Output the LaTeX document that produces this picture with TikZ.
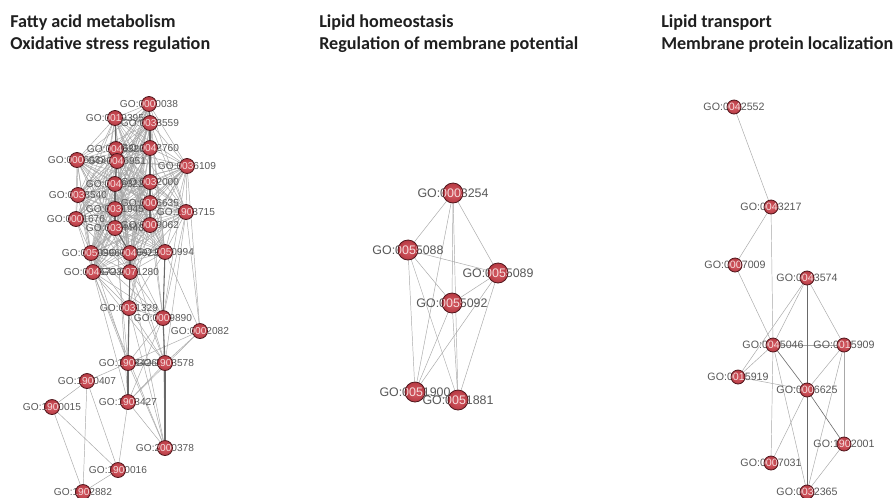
\documentclass[tikz,border=0pt]{standalone}
\usepackage{fontspec}
\setmainfont{Liberation Sans}
\newfontfamily\titlefont{Carlito}
\pgfdeclarelayer{bg}
\pgfsetlayers{bg,main}
\definecolor{nodered}{RGB}{208,66,76}
\definecolor{noderim}{RGB}{80,22,28}
\definecolor{edgegray}{RGB}{168,168,168}
\definecolor{edgedark}{RGB}{105,105,105}
\definecolor{lblgray}{RGB}{88,88,88}
\definecolor{lblin}{RGB}{245,220,220}
\tikzset{
  lblL/.style={font=\fontsize{7.6}{8}\selectfont, text=lblgray, inner sep=0pt},
  lblM/.style={font=\fontsize{9.3}{10}\selectfont, text=lblgray, inner sep=0pt},
  lblR/.style={font=\fontsize{8}{9}\selectfont, text=lblgray, inner sep=0pt},
  ndbase/.style={circle, draw=noderim, line width=0.6pt, inner sep=0pt,
    shading=radial, inner color=nodered!85!white, outer color=nodered!88!black},
  ndL/.style={ndbase, minimum size=11.25pt},
  ndM/.style={ndbase, minimum size=15pt},
  ndR/.style={ndbase, minimum size=10.5pt},
  edge/.style={draw=edgegray, line width=0.35pt},
  edgem/.style={draw=edgedark, line width=0.45pt},
  edgek/.style={draw=edgedark, line width=0.8pt},
  ttl/.style={font=\titlefont\bfseries\fontsize{13.6}{15}\selectfont, anchor=base west, inner sep=0pt, text=black!88}
}
\newcommand{\gon}[5]{%
  \node[lbl#1] at (#3,#4) {#5};
  \node[nd#1, path picture={\node[lbl#1, text=lblin] at (path picture bounding box.center) {#5};}] (#2) at (#3,#4) {};
}
\begin{document}
\begin{tikzpicture}[x=0.75pt,y=-0.75pt]
\useasboundingbox (0,0) rectangle (896,497);

% titles
\node[ttl] (t1) at (10,27) {Fatty acid metabolism};
\node[ttl] (t2) at (10,49) {Oxidative stress regulation};
\node[ttl] (t3) at (319,27) {Lipid homeostasis};
\node[ttl] (t4) at (319,49) {Regulation of membrane potential};
\node[ttl] (t5) at (661,27) {Lipid transport};
\node[ttl] (t6) at (661,49) {Membrane protein localization};

% ---------------- left network ----------------
\gon{L}{a1}{149}{104}{GO:0000038}
\gon{L}{a2}{115}{118}{GO:0019395}
\gon{L}{a3}{150}{123}{GO:0033559}
\gon{L}{a4}{116}{149}{GO:0046320}
\gon{L}{a5}{150}{148}{GO:0042760}
\gon{L}{a6}{77}{160}{GO:0006633}
\gon{L}{a7}{117}{161}{GO:0046951}
\gon{L}{a8}{187}{166}{GO:0036109}
\gon{L}{a9}{115}{184}{GO:0046322}
\gon{L}{a10}{150}{182}{GO:0032000}
\gon{L}{a11}{78}{195}{GO:0033540}
\gon{L}{a12}{150}{203}{GO:0006635}
\gon{L}{a13}{115}{209}{GO:0031945}
\gon{L}{a14}{186}{212}{GO:1903715}
\gon{L}{a15}{76}{219}{GO:0001676}
\gon{L}{a16}{115}{228}{GO:0034440}
\gon{L}{a17}{150}{225}{GO:0009062}
\gon{L}{a18}{91}{253}{GO:0050996}
\gon{L}{a19}{130}{253}{GO:0045923}
\gon{L}{a20}{165}{252}{GO:0050994}
\gon{L}{a21}{93}{272}{GO:0045723}
\gon{L}{a22}{130}{272}{GO:0071280}
\gon{L}{a23}{129}{308}{GO:0031329}
\gon{L}{a24}{163}{318}{GO:0009890}
\gon{L}{a25}{200}{331}{GO:0002082}
\gon{L}{a26}{128}{363}{GO:1903426}
\gon{L}{a27}{165}{363}{GO:1903578}
\gon{L}{a28}{87}{381}{GO:1900407}
\gon{L}{a29}{52}{407}{GO:1900015}
\gon{L}{a30}{128}{402}{GO:1903427}
\gon{L}{a31}{165}{448}{GO:2000378}
\gon{L}{a32}{118}{470}{GO:1900016}
\gon{L}{a33}{83}{492}{GO:1902882}

% ---------------- middle network ----------------
\gon{M}{b1}{453}{193}{GO:0003254}
\gon{M}{b2}{408}{250}{GO:0055088}
\gon{M}{b3}{498}{273}{GO:0055089}
\gon{M}{b4}{452}{303}{GO:0055092}
\gon{M}{b5}{415}{392}{GO:0051900}
\gon{M}{b6}{458}{400}{GO:0051881}

% ---------------- right network ----------------
\gon{R}{c1}{734}{107}{GO:0042552}
\gon{R}{c2}{771}{207}{GO:0043217}
\gon{R}{c3}{735}{265}{GO:0007009}
\gon{R}{c4}{807}{278}{GO:0043574}
\gon{R}{c5}{773}{345}{GO:0045046}
\gon{R}{c6}{844}{345}{GO:0015909}
\gon{R}{c7}{738}{377}{GO:0015919}
\gon{R}{c8}{807}{390}{GO:0006625}
\gon{R}{c9}{844}{444}{GO:1902001}
\gon{R}{c10}{771}{463}{GO:0007031}
\gon{R}{c11}{807}{492}{GO:0032365}

\begin{pgfonlayer}{bg}
  \fill[white] (0,0) rectangle (896,497);
  % dense cluster
  \foreach \i in {1,...,21}{
    \pgfmathtruncatemacro\ks{\i+1}
    \foreach \j in {\ks,...,22}{ \draw[edge] (a\i) -- (a\j); }
  }
  \foreach \u/\v in {a21/a23,a18/a23,a19/a23,a17/a23,a12/a23,a20/a23,a21/a26,a18/a26,
     a21/a30,a19/a24,a22/a24,a21/a24,a18/a24,a17/a24,a14/a24,a14/a25,a14/a27,
     a20/a25,a8/a25,a22/a27,a19/a27,a21/a27,a22/a31,a21/a31,a19/a30,a23/a24,
     a23/a27,a23/a30,a23/a31,a24/a26,a24/a30,a24/a31,a25/a26,a25/a27,a25/a30,
     a26/a27,a26/a31,a27/a30,a30/a31,a28/a26,a28/a29,a28/a32,a28/a33,a29/a32,
     a29/a33,a32/a30,a33/a32,a12/a24,a16/a26,a13/a30,a8/a24}
     { \draw[edge] (\u) -- (\v); }
  \foreach \u/\v in {a2/a4,a4/a7,a7/a9,a9/a13,a13/a16,a1/a3,a3/a5,a5/a10,a10/a12,a12/a17,
     a16/a19,a19/a22,a22/a23,a23/a26,a26/a30,a20/a24,a24/a27,a27/a31}
     { \draw[edgek] (\u) -- (\v); }
  % middle
  \foreach \u/\v in {b1/b2,b1/b3,b1/b4,b1/b5,b1/b6,b2/b3,b2/b4,b2/b5,b2/b6,
     b3/b4,b3/b5,b3/b6,b4/b5,b4/b6,b5/b6}
     { \draw[edge] (\u) -- (\v); }
  % right
  \foreach \u/\v in {c1/c2,c2/c3,c2/c5,c5/c10,c3/c5,c4/c5,c4/c7,c4/c6,c5/c6,
     c5/c7,c5/c11,c7/c8,c6/c8,c6/c9,c6/c11,c8/c10,c9/c11}
     { \draw[edge] (\u) -- (\v); }
  \foreach \u/\v in {c4/c8,c5/c8,c8/c9,c8/c11}
     { \draw[edgem] (\u) -- (\v); }
\end{pgfonlayer}
\end{tikzpicture}
\end{document}
